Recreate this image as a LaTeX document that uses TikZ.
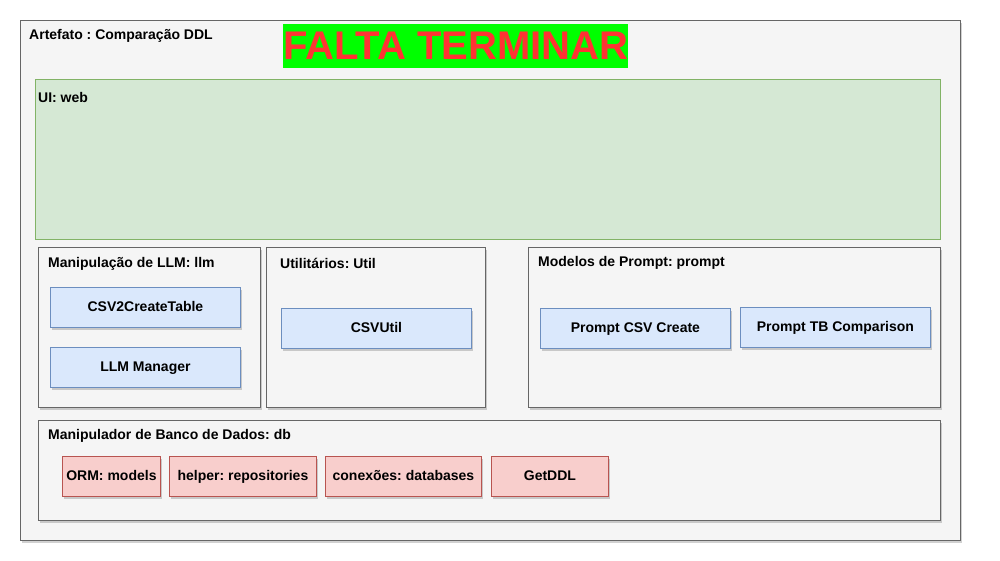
\documentclass[tikz,border=0pt]{standalone}
\usepackage{fontspec}
\setmainfont{Liberation Sans}
\frenchspacing
\usetikzlibrary{shadows}
\definecolor{grayfill}{HTML}{F5F5F5}
\definecolor{grayline}{HTML}{666666}
\definecolor{greenfill}{HTML}{D5E8D4}
\definecolor{greenline}{HTML}{82B366}
\definecolor{bluefill}{HTML}{DAE8FC}
\definecolor{blueline}{HTML}{6C8EBF}
\definecolor{redfill}{HTML}{F8CECC}
\definecolor{redline}{HTML}{B85450}
\definecolor{brightgreen}{HTML}{00FF00}
\definecolor{warnred}{HTML}{FF3333}
\tikzset{
  shad/.style={drop shadow={shadow xshift=2pt, shadow yshift=-3pt, opacity=0.18, fill=black}},
  container/.style={draw=grayline, fill=grayfill, line width=0.9pt, shad},
  uibox/.style={draw=greenline, fill=greenfill, line width=0.9pt},
  comp/.style={draw=blueline, fill=bluefill, line width=0.9pt, shad, anchor=north west, inner sep=0pt, text height=10.5pt, text depth=2pt, font=\fontsize{14}{16}\selectfont\bfseries},
  dbcomp/.style={draw=redline, fill=redfill, line width=0.9pt, shad, anchor=north west, inner sep=0pt, text height=10.5pt, text depth=2pt, font=\fontsize{14}{16}\selectfont\bfseries},
  lbl/.style={anchor=west, inner sep=0pt, yshift=-1pt, font=\fontsize{14}{16}\selectfont\bfseries},
}
\begin{document}
\begin{tikzpicture}[x=1pt, y=-1pt]
\useasboundingbox (0,0) rectangle (1000,560);
\fill[white] (0,0) rectangle (1000,560);
% outer
\draw[container] (20,20) rectangle (960,540);
\node[lbl] (title) at (29,35) {Artefato : Comparação DDL};
\node[anchor=north west, fill=brightgreen, inner sep=0pt, minimum width=344pt, minimum height=44pt, text=warnred, font=\fontsize{40}{44}\selectfont\bfseries] (warn) at (283,24) {FALTA TERMINAR};
% UI
\draw[uibox] (35,79) rectangle (940,239);
\node[lbl] (ui) at (38,96) {UI: web};
% LLM
\draw[container] (38,247) rectangle (260,407);
\node[lbl] (llm) at (48,263) {Manipulação de LLM: llm};
\node[comp, minimum width=190pt, minimum height=40pt] (csv2) at (50,287) {CSV2CreateTable};
\node[comp, minimum width=190pt, minimum height=40pt] (llmman) at (50,347) {LLM Manager};
% Util
\draw[container] (266,247) rectangle (485,407);
\node[lbl] (util) at (280,262) {Utilitários: Util};
\node[comp, minimum width=190pt, minimum height=40pt] (csvutil) at (281,308) {CSVUtil};
% Prompt
\draw[container] (528,247) rectangle (940,407);
\node[lbl] (prompt) at (538,262) {Modelos de Prompt: prompt};
\node[comp, minimum width=190pt, minimum height=40pt] (pcsv) at (540,308) {Prompt CSV Create};
\node[comp, minimum width=190pt, minimum height=40pt] (ptb) at (740,307) {Prompt TB Comparison};
% DB
\draw[container] (38,420) rectangle (940,520);
\node[lbl] (db) at (48,435) {Manipulador de Banco de Dados: db};
\node[dbcomp, minimum width=98pt, minimum height=40pt] (orm) at (62,456) {ORM: models};
\node[dbcomp, minimum width=147pt, minimum height=40pt] (helper) at (169,456) {helper: repositories};
\node[dbcomp, minimum width=156pt, minimum height=40pt] (conex) at (325,456) {conexões: databases};
\node[dbcomp, minimum width=117pt, minimum height=40pt] (getddl) at (491,456) {GetDDL};
\end{tikzpicture}
\end{document}
